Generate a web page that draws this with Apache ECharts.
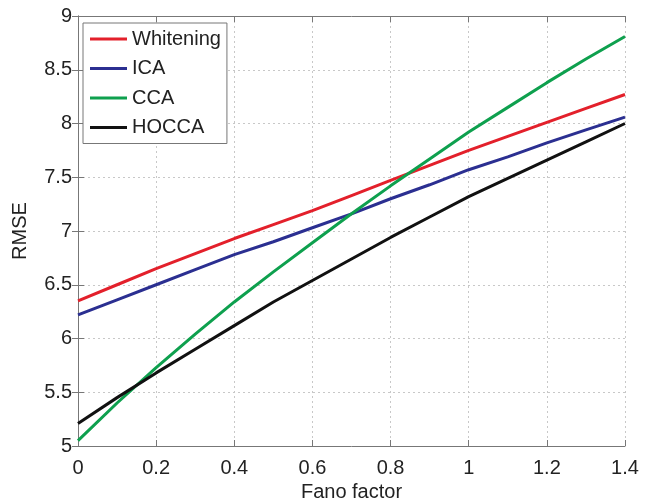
<!DOCTYPE html>
<html>
<head>
<meta charset="utf-8">
<script src="https://cdn.jsdelivr.net/npm/echarts@6/dist/echarts.min.js"></script>
<style>
html, body { margin: 0; padding: 0; background: #fff; }
#rmse { width: 645px; height: 501px; }
</style>
</head>
<body>
<div id="rmse"></div>
<script>
var fano = [0, 0.1, 0.2, 0.3, 0.4, 0.5, 0.6, 0.7, 0.8, 0.9, 1.0, 1.1, 1.2, 1.3, 1.4];
var whitening = [6.35, 6.50, 6.65, 6.79, 6.93, 7.06, 7.19, 7.33, 7.47, 7.61, 7.75, 7.88, 8.01, 8.14, 8.27];
var ica = [6.22, 6.36, 6.50, 6.64, 6.78, 6.90, 7.03, 7.16, 7.30, 7.43, 7.57, 7.69, 7.82, 7.94, 8.06];
var cca = [5.05, 5.40, 5.73, 6.04, 6.34, 6.62, 6.89, 7.16, 7.42, 7.67, 7.92, 8.15, 8.38, 8.60, 8.81];
var hocca = [5.21, 5.45, 5.68, 5.90, 6.12, 6.34, 6.54, 6.74, 6.94, 7.13, 7.32, 7.49, 7.66, 7.83, 8.00];

function pairs(ys) {
	return fano.map(function (x, i) { return [x, ys[i]]; });
}

function makeLine(name, ys, color) {
	return {
		name: name,
		type: 'line',
		data: pairs(ys),
		symbol: 'none',
		lineStyle: { color: color, width: 3 },
		itemStyle: { color: color },
		z: 3
	};
}

var font = 'Liberation Sans, Arial, sans-serif';
var frame = { show: true, lineStyle: { color: '#777', width: 1 } };
var grid = { show: true, lineStyle: { color: '#c8c8c8', type: [2, 3], width: 1 } };

var option = {
	animation: false,
	grid: { left: 78, right: 20, top: 16, bottom: 55, containLabel: false, outerBoundsMode: 'none' },
	legend: {
		orient: 'vertical',
		left: 83,
		top: 23,
		padding: [6, 6, 6, 7],
		icon: 'rect',
		itemWidth: 37,
		itemHeight: 3,
		itemGap: 9.5,
		backgroundColor: '#fff',
		borderColor: '#777',
		borderWidth: 1,
		textStyle: { fontFamily: font, fontSize: 20, color: '#222', lineHeight: 20 },
		data: ['Whitening', 'ICA', 'CCA', 'HOCCA']
	},
	xAxis: [{
		type: 'value', min: 0, max: 1.4, interval: 0.2,
		name: 'Fano factor', nameLocation: 'middle', nameGap: 34,
		nameTextStyle: { fontFamily: font, fontSize: 20, color: '#222' },
		axisLine: frame,
		axisTick: { show: true, inside: true, length: 6, lineStyle: { color: '#777' } },
		axisLabel: { fontFamily: font, fontSize: 20, color: '#222', margin: 12 },
		splitLine: grid
	}, {
		type: 'value', min: 0, max: 1.4, interval: 0.2, position: 'top',
		axisLine: frame,
		axisTick: { show: true, inside: true, length: 6, lineStyle: { color: '#777' } },
		axisLabel: { show: false },
		splitLine: { show: false }
	}],
	yAxis: [{
		type: 'value', min: 5, max: 9, interval: 0.5,
		name: 'RMSE', nameLocation: 'middle', nameGap: 48,
		nameTextStyle: { fontFamily: font, fontSize: 20, color: '#222' },
		axisLine: frame,
		axisTick: { show: true, inside: true, length: 6, lineStyle: { color: '#777' } },
		axisLabel: { fontFamily: font, fontSize: 20, color: '#222', margin: 6 },
		splitLine: grid
	}, {
		type: 'value', min: 5, max: 9, interval: 0.5, position: 'right',
		axisLine: frame,
		axisTick: { show: true, inside: true, length: 6, lineStyle: { color: '#777' } },
		axisLabel: { show: false },
		splitLine: { show: false }
	}],
	series: [
		makeLine('Whitening', whitening, '#e3202b'),
		makeLine('ICA', ica, '#2b2f91'),
		makeLine('CCA', cca, '#0ea04e'),
		makeLine('HOCCA', hocca, '#111111')
	]
};

var chart = echarts.init(document.getElementById('rmse'));
chart.setOption(option);
window.addEventListener('resize', function () {
	chart.resize();
});
</script>
</body>
</html>
